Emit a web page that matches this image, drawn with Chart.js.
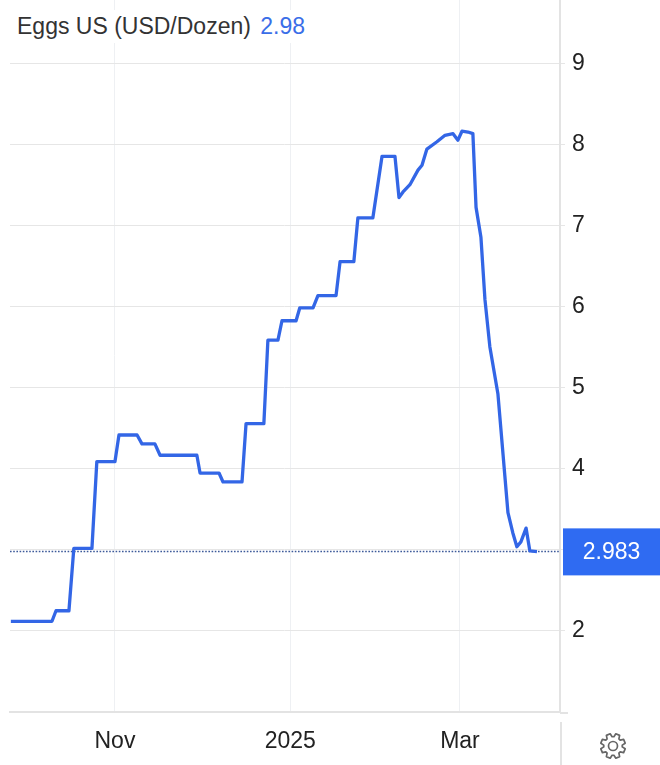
<!DOCTYPE html>
<html>
<head>
<meta charset="utf-8">
<script src="https://cdn.jsdelivr.net/npm/chart.js@4.4.1/dist/chart.umd.min.js"></script>
<style>
    html, body { margin: 0; padding: 0; background: #fff; }
    #wrap { position: relative; width: 660px; height: 765px; }
    #title {
        position: absolute; left: 9px; top: 10px; padding: 3px 8px;
        background: #fff; color: #333;
        font-family: "Liberation Sans", Arial, sans-serif; font-size: 23px;
    }
    #title span { color: #3a6ee8; margin-left: 3px; }
</style>
</head>
<body>
<div id="wrap">
    <canvas id="eggChart" width="660" height="765"></canvas>
    <div id="title">Eggs US (USD/Dozen) <span>2.98</span></div>
</div>
<script>
// x values are days counted from 1 Nov 2024
const days = [
    -36.2, -21.9, -20.5, -16.0, -14.3, -8.0, -6.3, 0, 1.4, 7.7,
    9.4, 13.9, 15.7, 28.5, 29.6, 36.2, 37.6, 44.2, 45.6, 51.8,
    53.2, 56.7, 58.1, 63.0, 64.3, 68.9, 70.6, 76.9, 78.3, 83.1,
    84.5, 89.7, 92.9, 97.4, 98.8, 100.2, 102.6, 105.4, 106.8, 108.5,
    112.0, 114.8, 117.6, 119.3, 120.7, 122.8, 124.5, 125.6, 127.3, 128.7,
    130.4, 133.2, 136.7, 138.4, 139.8, 141.2, 143.0, 144.3, 146.8
];
const prices = [
    2.12, 2.12, 2.25, 2.25, 3.02, 3.02, 4.09, 4.09, 4.42, 4.42,
    4.31, 4.31, 4.17, 4.17, 3.95, 3.95, 3.84, 3.84, 4.56, 4.56,
    5.59, 5.59, 5.83, 5.83, 5.99, 5.99, 6.14, 6.14, 6.56, 6.56,
    7.10, 7.10, 7.86, 7.86, 7.35, 7.42, 7.51, 7.69, 7.75, 7.95,
    8.04, 8.12, 8.14, 8.06, 8.17, 8.16, 8.14, 7.23, 6.86, 6.09,
    5.51, 4.93, 3.46, 3.21, 3.04, 3.10, 3.27, 2.99, 2.98
];
const lastPrice = 2.983;

// tick positions (days from 1 Nov 2024) and labels
const monthTicks = [0, 61, 120];
const monthLabels = ["Nov", "2025", "Mar"];
const priceTicks = [2, 3, 4, 5, 6, 7, 8, 9];

const FONT = "'Liberation Sans', Arial, sans-serif";

// dotted line at the last price + blue price tag
const lastPricePlugin = {
    id: "lastPrice",
    beforeDatasetsDraw(chart) {
        const {ctx, chartArea, scales} = chart;
        const y = Math.round(scales.y.getPixelForValue(lastPrice)) + 0.5;
        ctx.save();
        ctx.strokeStyle = "#3d5a9a";
        ctx.lineWidth = 1.6;
        ctx.setLineDash([1.6, 1.6]);
        ctx.beginPath();
        ctx.moveTo(chartArea.left, y);
        ctx.lineTo(chartArea.right, y);
        ctx.stroke();
        ctx.restore();
    },
    afterDraw(chart) {
        const {ctx, chartArea, scales, width} = chart;
        const y = scales.y.getPixelForValue(lastPrice);
        ctx.save();
        ctx.fillStyle = "#2f6bf2";
        ctx.fillRect(chartArea.right + 3, y - 23, width - chartArea.right - 3, 47);
        ctx.fillStyle = "#fff";
        ctx.font = "23px " + FONT;
        ctx.textAlign = "center";
        ctx.textBaseline = "middle";
        ctx.fillText(lastPrice.toFixed(3), (chartArea.right + 3 + width) / 2, y + 1);
        ctx.restore();
    }
};

// axis frame bits outside the plot + settings gear
const frameTrimPlugin = {
    id: "frameTrim",
    afterDraw(chart) {
        const {ctx, chartArea, height} = chart;
        ctx.save();
        ctx.strokeStyle = "#e3e3e3";
        ctx.lineWidth = 2;
        ctx.beginPath();
        ctx.moveTo(chartArea.right, chartArea.bottom + 1);
        ctx.lineTo(chartArea.right + 8, chartArea.bottom + 1);
        ctx.moveTo(chartArea.right + 1, chartArea.bottom + 10);
        ctx.lineTo(chartArea.right + 1, height);
        ctx.stroke();

        const cx = 613, cy = 746, rOut = 12.5, rIn = 9.3, teeth = 8;
        ctx.strokeStyle = "#666";
        ctx.lineWidth = 1.7;
        ctx.lineJoin = "round";
        ctx.beginPath();
        for (let k = 0; k < teeth; k++) {
            const a = k * 2 * Math.PI / teeth + Math.PI / 8;
            const step = Math.PI / teeth;
            const pts = [
                [rIn, a - step * 0.75],
                [rOut, a - step * 0.42],
                [rOut, a + step * 0.42],
                [rIn, a + step * 0.75]
            ];
            pts.forEach(([r, t], i) => {
                const px = cx + r * Math.cos(t), py = cy + r * Math.sin(t);
                if (k === 0 && i === 0) ctx.moveTo(px, py); else ctx.lineTo(px, py);
            });
        }
        ctx.closePath();
        ctx.stroke();
        ctx.beginPath();
        ctx.arc(cx, cy, 4.5, 0, 2 * Math.PI);
        ctx.stroke();
        ctx.restore();
    }
};

new Chart(document.getElementById("eggChart").getContext("2d"), {
    type: "line",
    data: {
        datasets: [{
            data: days.map((d, i) => ({x: d, y: prices[i]})),
            borderColor: "#3366e6",
            borderWidth: 3.3,
            pointRadius: 0,
            tension: 0,
            borderJoinStyle: "round",
            fill: false
        }]
    },
    options: {
        responsive: false,
        animation: false,
        devicePixelRatio: 1,
        layout: {padding: {left: 10, top: 0, right: 0, bottom: 0}},
        plugins: {
            legend: {display: false},
            tooltip: {enabled: false}
        },
        scales: {
            x: {
                type: "linear",
                min: -36.5,
                max: 154.8,
                afterBuildTicks: (scale) => {
                    scale.ticks = monthTicks.map((v) => ({value: v}));
                },
                afterFit: (scale) => {
                    scale.height = 53;
                    scale.paddingLeft = 0;
                    scale.paddingRight = 0;
                },
                grid: {color: "#eef0f3", drawTicks: false},
                border: {color: "#e3e3e3", width: 2},
                ticks: {
                    padding: 16,
                    color: "#222",
                    font: {family: FONT, size: 23},
                    maxRotation: 0,
                    callback: (value) => monthLabels[monthTicks.indexOf(value)]
                }
            },
            y: {
                position: "right",
                min: 1,
                max: 9.79,
                afterBuildTicks: (scale) => {
                    scale.ticks = priceTicks.map((v) => ({value: v}));
                },
                afterFit: (scale) => {
                    scale.width = 100;
                    scale.paddingTop = 0;
                    scale.paddingBottom = 0;
                },
                grid: {color: "#e6e6e6", tickLength: 5, tickColor: "#e6e6e6"},
                border: {color: "#e3e3e3", width: 2},
                ticks: {
                    padding: 7,
                    color: "#222",
                    font: {family: FONT, size: 23}
                }
            }
        }
    },
    plugins: [lastPricePlugin, frameTrimPlugin]
});
</script>
</body>
</html>
